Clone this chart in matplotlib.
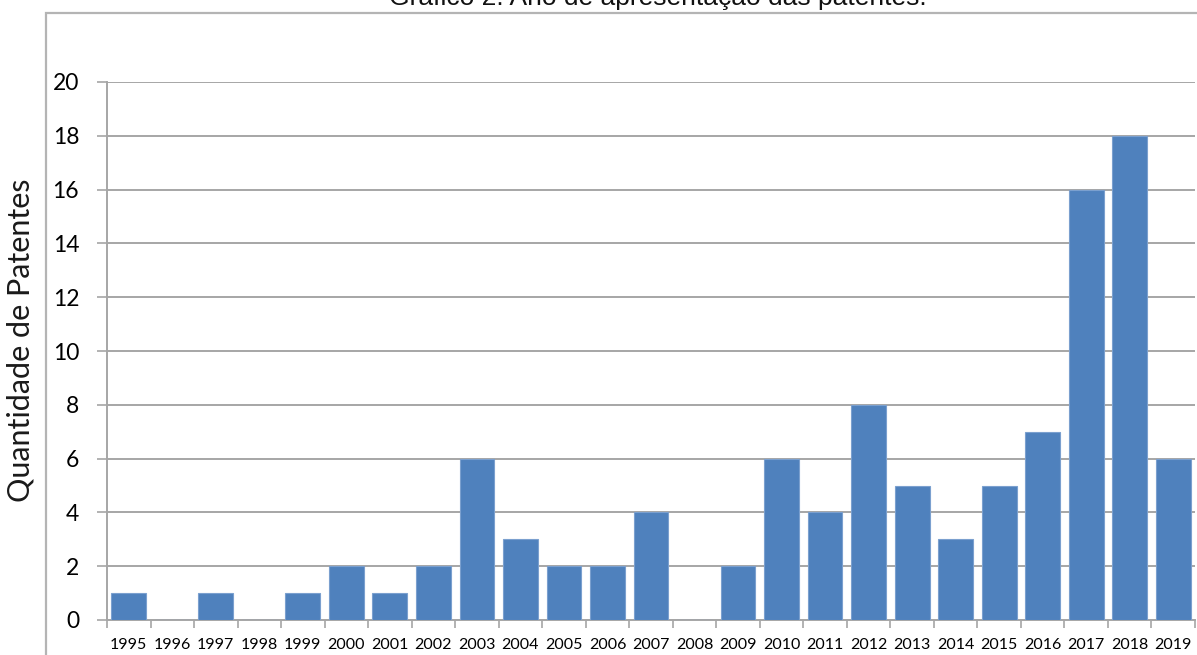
import numpy as np
import matplotlib
matplotlib.use("Agg")
import matplotlib.pyplot as plt
from matplotlib.patches import Rectangle

anos = [str(a) for a in range(1995, 2020)]
patentes = [1, 0, 1, 0, 1, 2, 1, 2, 6, 3, 2, 2, 4, 0, 2, 6, 4, 8, 5, 3, 5, 7, 16, 18, 6]
yticks = list(range(0, 21, 2))

titulo = "Gráfico 2: Ano de apresentação das patentes."
rotulo_y = "Quantidade de Patentes"

azul = "#4f81bd"
cinza = "#a6a6a6"

W, H = 1197, 655
fig = plt.figure(figsize=(W / 100, H / 100), dpi=100)

# moldura do gráfico (cortada na direita e embaixo)
fig.patches.append(Rectangle((46 / W, -0.1), 1.2, 1 - 13 / H + 0.1,
                             transform=fig.transFigure, fill=False,
                             edgecolor="#b4b4b4", linewidth=1.6))

ax = fig.add_axes([107 / W, 35 / H, (1195 - 107) / W, (620 - 82) / H])
x = np.arange(len(anos))
ax.bar(x, patentes, width=0.8, color=azul, edgecolor="#7ba0cf",
       linewidth=0.8, zorder=3)

ax.set_xlim(-0.5, len(anos) - 0.5)
ax.set_ylim(0, 20)
ax.set_yticks(yticks)
ax.yaxis.grid(True, color=cinza, linewidth=1.4, zorder=0)
ax.set_axisbelow(True)

ax.set_xticks(x)
ax.set_xticklabels(anos, family="Lato", fontsize=11.5, color="black")
ax.set_xticks(np.arange(-0.5, len(anos)), minor=True)
ax.tick_params(axis="x", which="major", length=0, pad=13)
ax.tick_params(axis="x", which="minor", length=6, width=1.2, color=cinza)
ax.tick_params(axis="y", length=7, width=1.2, color=cinza, pad=13,
               labelsize=16.5, labelcolor="black")
for lab in ax.get_yticklabels():
    lab.set_family("Lato")

for side in ["top", "right"]:
    ax.spines[side].set_visible(False)
for side in ["left", "bottom"]:
    ax.spines[side].set_color(cinza)
    ax.spines[side].set_linewidth(1.4)

fig.text(21 / W, 1 - 340 / H, rotulo_y, rotation=90, ha="center",
         va="center", family="Lato", fontsize=22, color="#1a1a1a")
fig.text(658 / W, 1 - 5 / H, titulo, ha="center", va="baseline",
         family="Liberation Sans", fontsize=19, color="#111111")

fig.savefig("out.png", dpi=100)
